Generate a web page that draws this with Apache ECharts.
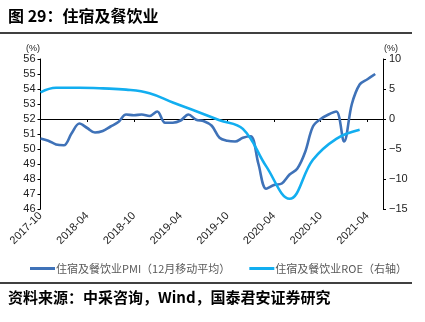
<!DOCTYPE html>
<html>
<head>
<meta charset="utf-8">
<script src="https://cdn.jsdelivr.net/npm/echarts@6/dist/echarts.min.js"></script>
<style>
  html, body { margin: 0; padding: 0; background: #fff; }
  #chart { width: 425px; height: 322px; }
</style>
</head>
<body>
<div id="chart"></div>
<script>
// Monthly axis, 2017-10 through 2021-06
const months = [];
for (let y = 2017, m = 10; y < 2021 || (y === 2021 && m <= 6); m++) {
  if (m > 12) { m = 1; y++; }
  months.push(y + '-' + String(m).padStart(2, '0'));
}

// 住宿及餐饮业PMI, 12-month moving average (2017-10 .. 2021-05)
const pmiValues = [
  50.7, 50.55, 50.3, 50.25, 51.05, 51.7, 51.4, 51.1, 51.2, 51.5, 51.8, 52.3,
  52.25, 52.3, 52.2, 52.5, 51.75, 51.75, 51.9, 52.3, 51.95, 51.85, 51.55, 50.75,
  50.55, 50.5, 50.75, 50.85, 49.0, 47.35, 47.6, 47.7, 48.3, 48.7, 49.8, 51.5,
  52.0, 52.3, 52.5, 50.5, 53.0, 54.3, 54.65, 55.0
];

// 住宿及餐饮业ROE (quarterly), right axis
const roeMonths = ['2017-10', '2017-12', '2018-03', '2018-06', '2018-09', '2018-12', '2019-03',
  '2019-06', '2019-09', '2019-12', '2020-03', '2020-06', '2020-09', '2020-12', '2021-03'];
const roeValues = [4.45, 5.2, 5.2, 5.1, 4.9, 4.3, 2.75, 1.3, -0.2, -1.65, -7.9, -13.3, -6.8, -3.3, -1.8];

const leftTicks = { min: 46, max: 56, interval: 1 };
const rightTicks = { min: -15, max: 10, interval: 5 };

const pmiName = '住宿及餐饮业PMI（12月移动平均）';
const roeName = '住宿及餐饮业ROE（右轴）';
const pmiColor = '#3f72b8';
const roeColor = '#12aef0';

const labelFont = 'Arial, "Liberation Sans", sans-serif';
const cjkFont = '"Noto Sans CJK SC", sans-serif';

const chart = echarts.init(document.getElementById('chart'), null, { renderer: 'canvas' });

chart.setOption({
  animation: false,
  backgroundColor: '#fff',
  grid: { left: 40.5, right: 42, top: 59, bottom: 113 },
  graphic: [
    { type: 'text', left: 8, top: 8,
      style: { text: '图 29：住宿及餐饮业', font: 'bold 16px ' + cjkFont, fill: '#000' } },
    { type: 'line', shape: { x1: 0, y1: 33, x2: 412, y2: 33 },
      style: { stroke: '#000', lineWidth: 1.5 } },
    { type: 'text', x: 33, y: 49,
      style: { text: '(%)', font: '9px ' + labelFont, fill: '#222', align: 'center', verticalAlign: 'middle' } },
    { type: 'text', x: 391, y: 49,
      style: { text: '(%)', font: '9px ' + labelFont, fill: '#222', align: 'center', verticalAlign: 'middle' } },
    { type: 'line', shape: { x1: 0, y1: 283, x2: 412, y2: 283 },
      style: { stroke: '#000', lineWidth: 1.5 } },
    { type: 'text', left: 8, top: 290,
      style: { text: '资料来源：中采咨询，Wind，国泰君安证券研究', font: 'bold 15px ' + cjkFont, fill: '#000' } }
  ],
  legend: {
    left: 25, top: 258,
    icon: 'rect', itemWidth: 25, itemHeight: 3, itemGap: 19,
    textStyle: { fontFamily: cjkFont, fontSize: 11, color: '#595959', padding: [0, 0, 0, -4] },
    data: [pmiName, roeName]
  },
  xAxis: {
    type: 'category',
    data: months,
    boundaryGap: false,
    axisLine: { lineStyle: { color: '#000', width: 1 } },
    axisTick: { alignWithLabel: true, interval: (i) => i % 6 === 0, length: 3, lineStyle: { color: '#000' } },
    axisLabel: {
      interval: (i) => i % 6 === 0,
      rotate: 45, fontSize: 11, fontFamily: labelFont, color: '#222', margin: 5
    },
    splitLine: { show: false }
  },
  yAxis: [
    {
      type: 'value', position: 'left',
      min: leftTicks.min, max: leftTicks.max, interval: leftTicks.interval,
      axisLine: { show: true, lineStyle: { color: '#000' } },
      axisTick: { show: true, length: 3, lineStyle: { color: '#000' } },
      axisLabel: { fontSize: 11, fontFamily: labelFont, color: '#222', margin: 5 },
      splitLine: { show: false }
    },
    {
      type: 'value', position: 'right',
      min: rightTicks.min, max: rightTicks.max, interval: rightTicks.interval,
      axisLine: { show: true, lineStyle: { color: '#000' } },
      axisTick: { show: true, length: 3, lineStyle: { color: '#000' } },
      axisLabel: {
        fontSize: 11, fontFamily: labelFont, color: '#222', margin: 6,
        formatter: (v) => String(v).replace('-', '\u2212')
      },
      splitLine: { show: false }
    }
  ],
  series: [
    {
      name: pmiName, type: 'line', yAxisIndex: 0,
      data: pmiValues,
      smooth: 0.35, symbol: 'none',
      lineStyle: { color: pmiColor, width: 2.6 },
      itemStyle: { color: pmiColor }
    },
    {
      name: roeName, type: 'line', yAxisIndex: 1,
      data: roeMonths.map((m, i) => [m, roeValues[i]]),
      smooth: 0.4, symbol: 'none',
      lineStyle: { color: roeColor, width: 2.6 },
      itemStyle: { color: roeColor }
    }
  ]
});
</script>
</body>
</html>
